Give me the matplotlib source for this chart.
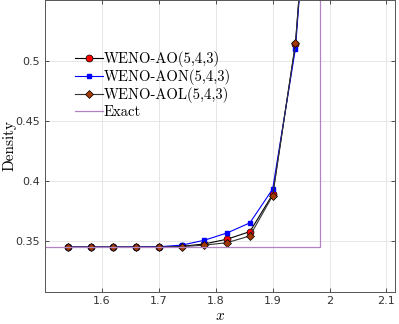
import matplotlib
matplotlib.use("Agg")
import matplotlib.pyplot as plt

x_pts = [1.54, 1.58, 1.62, 1.66, 1.70, 1.74, 1.78, 1.82, 1.86, 1.90, 1.94, 1.98]
rho_ao = [0.3446, 0.3446, 0.3446, 0.3446, 0.3447, 0.3452, 0.3472, 0.3512, 0.3575, 0.3885, 0.5136, 0.76]
rho_aon = [0.3446, 0.3446, 0.3446, 0.3447, 0.3449, 0.3462, 0.3503, 0.3564, 0.3648, 0.3930, 0.5100, 0.76]
rho_aol = [0.3446, 0.3446, 0.3446, 0.3446, 0.3446, 0.3450, 0.3462, 0.3483, 0.3539, 0.3875, 0.5145, 0.76]

x_exact = [1.5, 1.984, 1.984]
rho_exact = [0.3445, 0.3445, 1.0]

x_ticks = [1.6, 1.7, 1.8, 1.9, 2.0, 2.1]
x_ticklabels = ["1.6", "1.7", "1.8", "1.9", "2", "2.1"]
y_ticks = [0.35, 0.4, 0.45, 0.5]
y_ticklabels = ["0.35", "0.4", "0.45", "0.5"]

plt.rcParams["mathtext.fontset"] = "cm"

fig = plt.figure(figsize=(3.99, 3.24), dpi=100)
ax = fig.add_axes([0.113, 0.1, 0.877, 0.9])

ax.plot(x_pts, rho_ao, "-o", color="black", lw=0.8, mfc="red", mec="black",
        mew=0.5, ms=5, label="WENO-AO(5,4,3)")
ax.plot(x_pts, rho_aon, "-s", color="blue", lw=0.8, mfc="blue", mec="blue",
        ms=3.5, label="WENO-AON(5,4,3)")
ax.plot(x_pts, rho_aol, "-D", color="#333333", lw=0.8, mfc="#a33a05", mec="black",
        mew=0.5, ms=4, label="WENO-AOL(5,4,3)")
ax.plot(x_exact, rho_exact, "-", color="#b282c4", lw=0.9, label="Exact")

ax.set_xlim(1.5, 2.115)
ax.set_ylim(0.3075, 0.5505)
ax.set_xticks(x_ticks)
ax.set_xticklabels(x_ticklabels)
ax.set_yticks(y_ticks)
ax.set_yticklabels(y_ticklabels)
ax.tick_params(direction="in", length=3, labelsize=8, colors="#333333",
               top=True, right=True, width=0.6)
ax.grid(True, color="#e6e6e6", lw=0.7)
ax.set_axisbelow(True)
for s in ax.spines.values():
    s.set_color("#555555")
    s.set_linewidth(0.7)

ax.set_xlabel("$x$", fontsize=11, labelpad=1)
ax.set_ylabel("Density", fontsize=11, fontname="cmr10")
ax.yaxis.set_label_coords(-0.083, 0.5)

leg = ax.legend(loc="upper left", bbox_to_anchor=(0.085, 0.825), frameon=False,
                prop={"family": "cmr10", "size": 10.5}, handlelength=1.9,
                handletextpad=0.1, labelspacing=0.15, borderaxespad=0,
                borderpad=0)

fig.savefig("out.png", dpi=100)
